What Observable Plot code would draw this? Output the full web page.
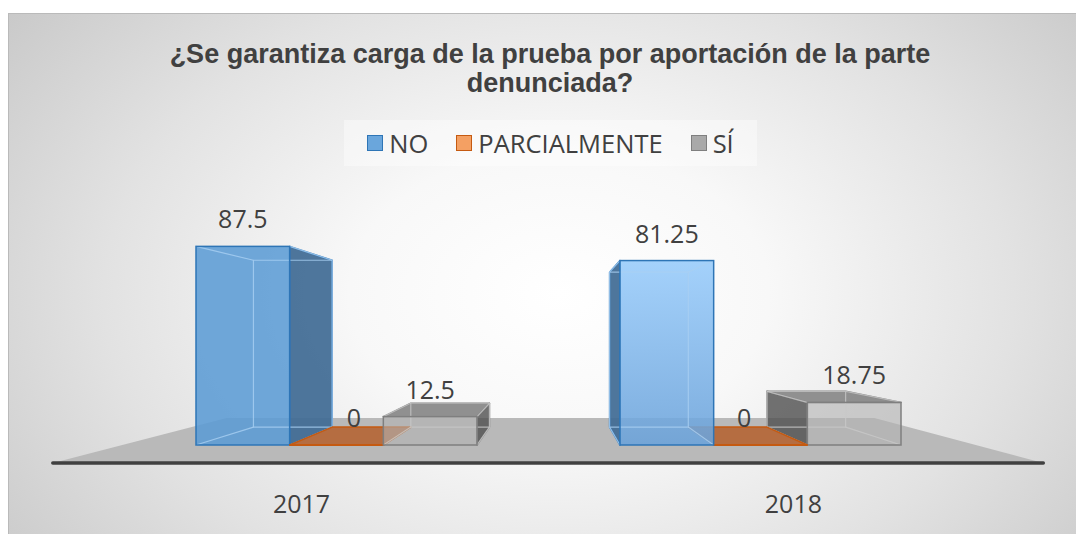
<!DOCTYPE html>
<html>
<head>
<meta charset="utf-8">
<script src="https://cdn.jsdelivr.net/npm/d3@7"></script>
<script src="https://cdn.jsdelivr.net/npm/@observablehq/plot@0.6"></script>
<style>
  html, body { margin: 0; padding: 0; background: #ffffff; }
  #wrap { position: relative; width: 1076px; height: 534px; overflow: hidden; }
  #bg { position: absolute; left: 8px; top: 13px; width: 1090px; height: 540px;
        border-top: 1px solid #bababa; border-left: 1px solid #bababa;
        background: radial-gradient(ellipse 700px 480px at 550px 280px, #ffffff 0%, #f8f8f8 30%, #e2e2e2 65%, #c8c8c8 100%); }
  #title { position: absolute; left: 150px; width: 800px; top: 40px; text-align: center;
           font: bold 27px "Liberation Sans", Arial, sans-serif; color: #404040; line-height: 29px; white-space: nowrap; }
  #legend { position: absolute; left: 344px; top: 120px; width: 413px; height: 46px; background: rgba(255,255,255,0.4);
            display: flex; align-items: center; justify-content: center; gap: 28px;
            font: 25.5px "Open Sans", sans-serif; color: #404040; }
  #legend .item { display: flex; align-items: center; gap: 6px; }
  #legend .sw { width: 14px; height: 14px; border: 1.5px solid; display: inline-block; }
  #chart { position: absolute; left: 0; top: 170px; }
</style>
</head>
<body>
<div id="wrap">
  <div id="bg"></div>
  <div id="title"></div>
  <div id="legend"></div>
  <div id="chart"></div>
</div>
<script>
// ---- data ----
const YEARS = ["2017", "2018"];
const SERIES = ["NO", "PARCIALMENTE", "SÍ"];
const NO_VALUES = [87.5, 81.25];
const PARCIAL_VALUES = [0, 0];
const SI_VALUES = [12.5, 18.75];
const TITLE_LINES = ["¿Se garantiza carga de la prueba por aportación de la parte", "denunciada?"];

const rows = YEARS.flatMap((year, i) => [
  {year, series: "NO", value: NO_VALUES[i]},
  {year, series: "PARCIALMENTE", value: PARCIAL_VALUES[i]},
  {year, series: "SÍ", value: SI_VALUES[i]}
]);

// ---- style ----
const STYLE = {
  "NO": {front: "#5b9bd5", frontOpacity: 0.87, side: "#3f6a94", sideOpacity: 0.92, top: "#4a7db0", stroke: "#2e75b6", inner: "#a9cff3", legend: "#6aa6dc"},
  "PARCIALMENTE": {front: "#ed7d31", frontOpacity: 0.85, side: "#8f4a1a", sideOpacity: 0.9, top: "#b4683a", stroke: "#c55a11", inner: "#d98a55", legend: "#f4a063"},
  "SÍ": {front: "#b3b3b3", frontOpacity: 0.6, side: "#4f4f4f", sideOpacity: 0.8, top: "#8a8a8a", stroke: "#7f7f7f", inner: "#c8c8c8", legend: "#a9a9a9"}
};
const GRADIENTS = {"2018|NO": ["#97cbfb", "#6aa2da"]};
const CAMERA = {vx: 0.5158, vyValue: 49.3};
const DEPTH = 0.16, K_FRONT = 0.138, K_FLOOR_BACK = 0.346, FLOOR_EXT = 0.263;
const FLOOR_COLOR = "#b9b9b9", AXIS_COLOR = "#404040", TEXT_COLOR = "#404040";

// ---- title & legend ----
document.getElementById("title").innerHTML = TITLE_LINES.join("<br>");
const legend = d3.select("#legend");
SERIES.forEach(s => {
  const it = legend.append("span").attr("class", "item");
  it.append("span").attr("class", "sw").style("background", STYLE[s].legend).style("border-color", STYLE[s].stroke);
  it.append("span").text(s);
});

// ---- 3D renderer ----
function render3d(index, scales, values, dimensions) {
  const g = d3.create("svg:g");
  const xs = scales.x;
  const bw = typeof xs.bandwidth === "function" ? xs.bandwidth() : xs.bandwidth;
  const sub = d3.scaleBand(SERIES, [0, bw]).padding(0);
  const vp = {x: dimensions.width * CAMERA.vx, y: scales.y(CAMERA.vyValue)};
  const toward = (p, k) => ({x: p.x + k * (vp.x - p.x), y: p.y + k * (vp.y - p.y)});
  const toFloorFront = p => ({x: (p.x - K_FRONT * vp.x) / (1 - K_FRONT), y: (p.y - K_FRONT * vp.y) / (1 - K_FRONT)});
  const pts = arr => arr.map(d => `${d.x},${d.y}`).join(" ");

  const defs = g.append("defs");
  for (const key in GRADIENTS) {
    const lg = defs.append("linearGradient").attr("id", "grad-" + key.replace(/[^a-zA-Z0-9]/g, "_"))
      .attr("x1", 0).attr("y1", 0).attr("x2", 0).attr("y2", 1);
    lg.append("stop").attr("offset", "0%").attr("stop-color", GRADIENTS[key][0]);
    lg.append("stop").attr("offset", "100%").attr("stop-color", GRADIENTS[key][1]);
  }

  // floor
  const y0 = scales.y(0);
  const r0 = dimensions.marginLeft, r1 = dimensions.width - dimensions.marginRight;
  const ext = bw * FLOOR_EXT;
  const fl = toFloorFront({x: r0 - ext, y: y0}), fr = toFloorFront({x: r1 + ext, y: y0});
  const bl = toward(fl, K_FLOOR_BACK), br = toward(fr, K_FLOOR_BACK);
  g.append("polygon").attr("points", pts([fl, fr, br, bl])).attr("fill", FLOOR_COLOR);
  g.append("line").attr("x1", fl.x).attr("y1", fl.y).attr("x2", fr.x).attr("y2", fr.y)
    .attr("stroke", AXIS_COLOR).attr("stroke-width", 3.5).attr("stroke-linecap", "round");

  // year labels
  YEARS.forEach(year => {
    const p = toFloorFront({x: xs(year) + bw / 2, y: y0});
    g.append("text").attr("x", p.x).attr("y", p.y + 50).attr("text-anchor", "middle")
      .attr("font-family", "Open Sans, sans-serif").attr("font-size", 25).attr("fill", TEXT_COLOR).text(year);
  });

  // bars
  const bars = Array.from(index, i => {
    const d = rows[i];
    const x1 = values.x[i] + sub(d.series), x2 = x1 + sub.bandwidth();
    return {i, d, x1, x2, yt: values.y2[i], yb: values.y1[i]};
  }).sort((a, b) => Math.abs((b.x1 + b.x2) / 2 - vp.x) - Math.abs((a.x1 + a.x2) / 2 - vp.x));

  for (const b of bars) {
    const st = STYLE[b.d.series];
    const key = b.d.year + "|" + b.d.series;
    const frontFill = GRADIENTS[key] ? `url(#grad-${key.replace(/[^a-zA-Z0-9]/g, "_")})` : st.front;
    const F = {tl: {x: b.x1, y: b.yt}, tr: {x: b.x2, y: b.yt}, bl: {x: b.x1, y: b.yb}, br: {x: b.x2, y: b.yb}};
    const B = {tl: toward(F.tl, DEPTH), tr: toward(F.tr, DEPTH), bl: toward(F.bl, DEPTH), br: toward(F.br, DEPTH)};
    const face = (arr, fill, op) => g.append("polygon").attr("points", pts(arr)).attr("fill", fill).attr("fill-opacity", op)
      .attr("stroke", st.stroke).attr("stroke-width", 1.5).attr("stroke-linejoin", "round");
    if (b.x2 < vp.x) face([F.tr, B.tr, B.br, F.br], st.side, st.sideOpacity);
    if (b.x1 > vp.x) face([F.tl, B.tl, B.bl, F.bl], st.side, st.sideOpacity);
    if (b.yt > vp.y) face([F.tl, F.tr, B.tr, B.tl], st.top, 0.95);
    const h = b.yb - b.yt;
    if (h > 0.5) {
      g.append("rect").attr("x", b.x1).attr("y", b.yt).attr("width", b.x2 - b.x1).attr("height", h)
        .attr("fill", frontFill).attr("fill-opacity", st.frontOpacity);
      const inner = g.append("g").attr("stroke", st.inner).attr("stroke-width", 1.2).attr("stroke-opacity", 0.8).attr("fill", "none");
      inner.append("polygon").attr("points", pts([B.tl, B.tr, B.br, B.bl]));
      [["tl"], ["tr"], ["bl"], ["br"]].forEach(([c]) => inner.append("line")
        .attr("x1", F[c].x).attr("y1", F[c].y).attr("x2", B[c].x).attr("y2", B[c].y));
      g.append("rect").attr("x", b.x1).attr("y", b.yt).attr("width", b.x2 - b.x1).attr("height", h)
        .attr("fill", "none").attr("stroke", st.stroke).attr("stroke-width", 1.5);
    } else {
      g.append("line").attr("x1", b.x1).attr("y1", b.yb).attr("x2", b.x2).attr("y2", b.yb)
        .attr("stroke", st.stroke).attr("stroke-width", 2);
    }
  }

  // value labels
  for (const b of bars) {
    const c = {x: (b.x1 + b.x2) / 2, y: b.yt};
    const p = b.d.value === 0 ? toward(c, DEPTH / 2) : c;
    g.append("text").attr("x", p.x).attr("y", b.yt - 18).attr("text-anchor", "middle")
      .attr("font-family", "Open Sans, sans-serif").attr("font-size", 25).attr("fill", TEXT_COLOR)
      .text(String(b.d.value));
  }
  return g.node();
}

const chart = Plot.plot({
  width: 1076,
  height: 364,
  marginLeft: 196,
  marginRight: 174,
  marginTop: 48,
  marginBottom: 89,
  x: {type: "band", domain: YEARS, paddingInner: 0.337, paddingOuter: 0, axis: null},
  y: {domain: [0, 100], axis: null},
  style: {background: "transparent", overflow: "visible"},
  marks: [
    Plot.barY(rows, {x: "year", y1: 0, y2: "value", render: render3d})
  ]
});
document.getElementById("chart").appendChild(chart);
</script>
</body>
</html>
